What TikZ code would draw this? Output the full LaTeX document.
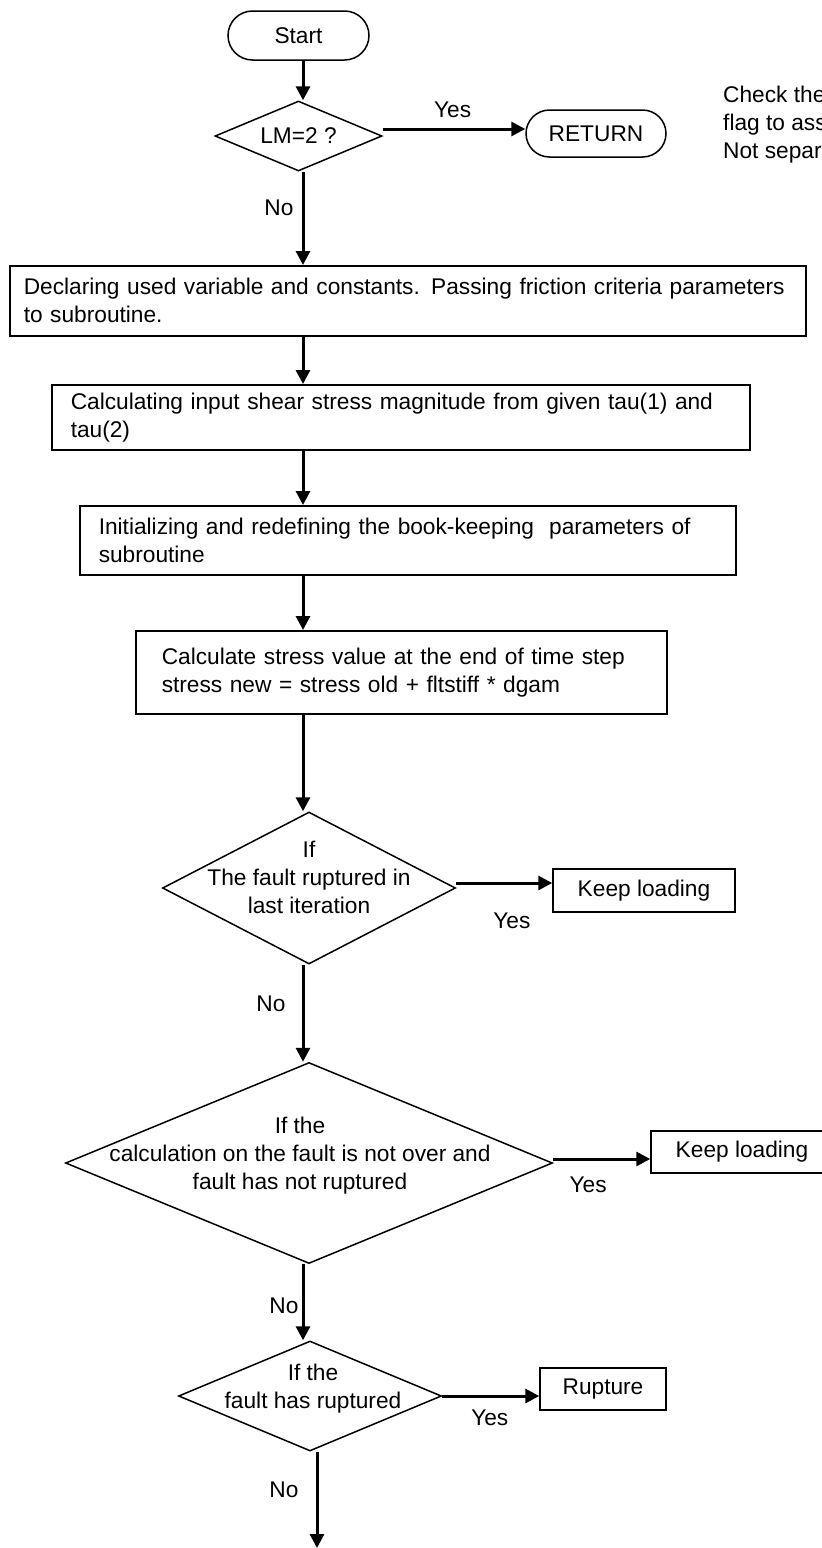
\documentclass[tikz,border=0pt]{standalone}
\usepackage{fontspec}
\setmainfont{Liberation Sans}
\usetikzlibrary{arrows.meta,shapes.geometric,shapes.misc}
\tikzset{
  terminalbox/.style={draw,line width=1.5pt,rounded rectangle,inner sep=0pt},
  processbox/.style={draw,line width=1.5pt,rectangle,anchor=north west,align=left,
    inner ysep=0pt,execute at begin node={\hyphenpenalty=10000\relax}},
  decisionshape/.style={draw,line width=1.5pt,diamond,inner sep=0pt},
  resultbox/.style={draw,line width=1.5pt,rectangle,inner sep=0pt},
  flowarrow/.style={-{Triangle[length=14pt,width=14pt]},line width=3pt},
  branchlabel/.style={inner sep=0pt},
  notelabel/.style={align=left,anchor=west,inner sep=0pt}
}
\begin{document}
\begin{tikzpicture}[x=1pt,y=-1pt,font=\fontsize{22.7pt}{28pt}\selectfont]
  \useasboundingbox (0,0) rectangle (822,1548);
  \clip (0,0) rectangle (822,1548);
  \coordinate (axis) at (303,0);
  \coordinate (exit) at (317,1548);
  \node[terminalbox,minimum width=141pt,minimum height=49pt] (start) at (298.5,35.5) {Start};
  \node[decisionshape,minimum width=167pt,minimum height=70pt,
    label={center:{LM=2 ?}}] (lm) at (298.5,136) {};
  \node[terminalbox,minimum width=140pt,minimum height=47pt] (ret) at (596,133.5) {RETURN};
  \node[notelabel] (note) at (723,125) {Check the\\flag to ass\\Not separ};
  \node[processbox,inner xsep=14pt,text width=768pt,minimum height=70pt] (declare) at (9,265)
    {Declaring used variable and constants. Passing friction criteria parameters\\to subroutine.};
  \node[processbox,inner xsep=19pt,text width=660pt,minimum height=65pt] (shear) at (51,384)
    {Calculating input shear stress magnitude from given tau(1) and\\tau(2)};
  \node[processbox,inner xsep=19pt,text width=618pt,minimum height=69pt] (init) at (79,505)
    {Initializing and redefining the book-keeping\ \ parameters of\\subroutine};
  \node[processbox,inner xsep=26pt,text width=479pt,minimum height=83pt] (stress) at (135,630)
    {Calculate stress value at the end of time step\\stress new = stress old + fltstiff * dgam};
  \node[decisionshape,minimum width=293pt,minimum height=152pt,
    label={[align=center,yshift=11pt]center:{If\\The fault ruptured in\\last iteration}}]
    (lastiter) at (309,888) {};
  \node[resultbox,minimum width=182pt,minimum height=43pt] (keepa) at (644,890.5) {Keep loading};
  \node[decisionshape,minimum width=487pt,minimum height=201pt,
    label={[align=center,xshift=-9pt,yshift=7pt]center:{If the\\calculation on the fault is not over and\\fault has not ruptured}}]
    (notover) at (309,1163) {};
  \node[resultbox,minimum width=182pt,minimum height=42pt] (keepb) at (742,1152) {Keep loading};
  \node[decisionshape,minimum width=263pt,minimum height=110pt,
    label={[align=center,xshift=3pt,yshift=7pt]center:{If the\\fault has ruptured}}]
    (hasrup) at (310,1396) {};
  \node[resultbox,minimum width=126pt,minimum height=42pt] (rupture) at (603,1389) {Rupture};

  \draw[flowarrow] (start.south -| axis) -- (lm.north -| axis);
  \draw[flowarrow] ([yshift=7pt]lm.east) -- node[branchlabel,above=10pt,pos=0.49] {Yes} ([yshift=4.5pt]ret.west);
  \draw[flowarrow] (lm.south -| axis) -- node[branchlabel,left=8pt,pos=0.39] {No} (declare.north -| axis);
  \draw[flowarrow] (declare.south -| axis) -- (shear.north -| axis);
  \draw[flowarrow] (shear.south -| axis) -- (init.north -| axis);
  \draw[flowarrow] (init.south -| axis) -- (stress.north -| axis);
  \draw[flowarrow] (stress.south -| axis) -- (lastiter.north -| axis);
  \draw[flowarrow] ([yshift=5pt]lastiter.east) -- node[branchlabel,below=28pt,pos=0.58] {Yes} ([yshift=7.5pt]keepa.west);
  \draw[flowarrow] (lastiter.south -| axis) -- node[branchlabel,left=16pt,pos=0.4] {No} (notover.north -| axis);
  \draw[flowarrow] ([yshift=4pt]notover.east) -- node[branchlabel,below=16pt,pos=0.36] {Yes} ([yshift=-7pt]keepb.west);
  \draw[flowarrow] (notover.south -| axis) -- node[branchlabel,left=3pt,pos=0.54] {No} (hasrup.north -| axis);
  \draw[flowarrow] (hasrup.east) -- node[branchlabel,below=12pt,pos=0.49] {Yes} ([yshift=-7pt]rupture.west);
  \draw[flowarrow] (hasrup.south -| exit) -- node[branchlabel,left=17pt,pos=0.39] {No} (exit);
\end{tikzpicture}
\end{document}
